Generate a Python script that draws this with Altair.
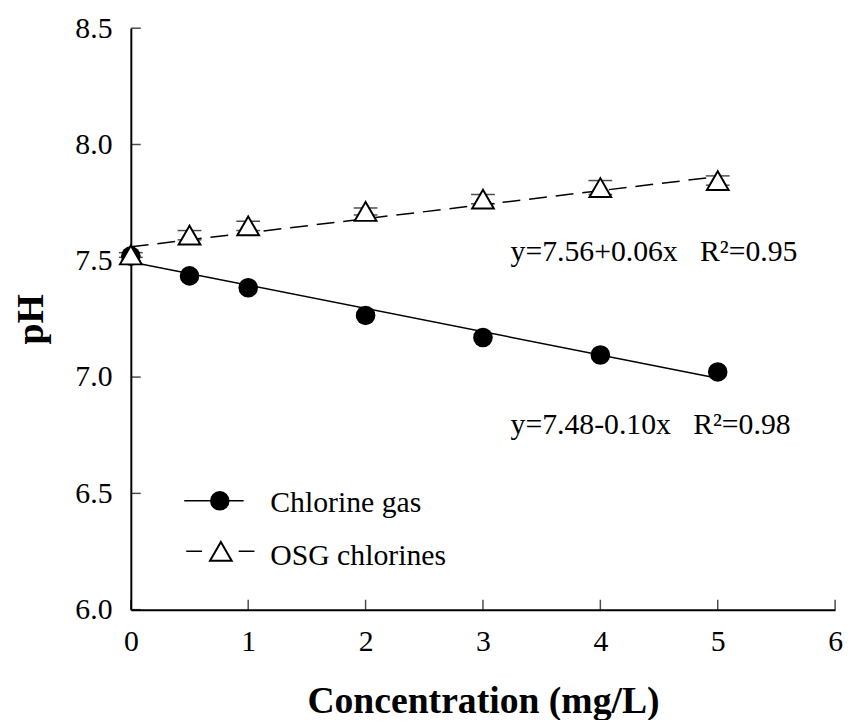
import altair as alt
import pandas as pd

# ---- data ----
conc = [0, 0.5, 1, 2, 3, 4, 5]
ph_gas = [7.52, 7.435, 7.384, 7.265, 7.17, 7.095, 7.022]
ph_osg = [7.525, 7.61, 7.65, 7.712, 7.765, 7.815, 7.845]
err_osg = [0.01, 0.02, 0.02, 0.015, 0.02, 0.03, 0.02]

fit_x = [0, 5]
fit_gas = [7.495, 6.995]
fit_osg = [7.56, 7.862]

NB = "\u00a0"
eq_text = ["y=7.56+0.06x" + NB * 3 + "R\u00b2=0.95", "y=7.48-0.10x" + NB * 3 + "R\u00b2=0.98"]
eq_x = [3.235, 3.235]
eq_y = [7.5, 6.754]

legend_labels = ["Chlorine gas", "OSG chlorines"]
legend_sym_y = [6.468, 6.251]
legend_txt_y = [6.42, 6.19]

x_ticks = [0, 1, 2, 3, 4, 5, 6]
y_ticks = [6.0, 6.5, 7.0, 7.5, 8.0, 8.5]

W, H = 711, 587
FONT = "Liberation Serif"

xs = alt.Scale(domain=[0, 6], nice=False)
ys = alt.Scale(domain=[6.0, 8.5], nice=False)

pts = pd.DataFrame({"x": conc, "gas": ph_gas, "osg": ph_osg,
                    "lo": [a - b for a, b in zip(ph_osg, err_osg)],
                    "hi": [a + b for a, b in zip(ph_osg, err_osg)]})
fit = pd.DataFrame({"x": fit_x, "gas": fit_gas, "osg": fit_osg})
eqs = pd.DataFrame({"t": eq_text, "x": eq_x, "y": eq_y})

X = alt.X("x:Q", scale=xs,
          axis=alt.Axis(values=x_ticks, format="d", tickSize=0, labelPadding=17,
                        labelFlush=False, labelOverlap=False,
                        title="Concentration (mg/L)", titlePadding=27,
                        grid=False, domainWidth=2, domainColor="black"))
Y = alt.Y("y:Q", scale=ys,
          axis=alt.Axis(values=y_ticks, format=".1f", tickSize=0, labelPadding=19,
                        labelFlush=False, labelOverlap=False,
                        title="pH", titlePadding=25,
                        grid=False, domainWidth=2, domainColor="black"))

base = alt.Chart(pts)

axes_holder = alt.Chart(pd.DataFrame({"x": [0], "y": [6.0]})).mark_point(opacity=0).encode(x=X, y=Y)

xtick = alt.Chart(pd.DataFrame({"x": x_ticks})).mark_tick(
    orient="vertical", size=10, thickness=1.5, color="black"
).encode(x=alt.X("x:Q", scale=xs), y=alt.value(H - 5))
ytick = alt.Chart(pd.DataFrame({"y": y_ticks})).mark_tick(
    orient="horizontal", size=10, thickness=1.5, color="black"
).encode(y=alt.Y("y:Q", scale=ys), x=alt.value(5))

gas_line = alt.Chart(fit).mark_line(color="black", strokeWidth=1.5).encode(
    x=alt.X("x:Q", scale=xs), y=alt.Y("gas:Q", scale=ys))
osg_line = alt.Chart(fit).mark_line(color="black", strokeWidth=1.5, strokeDash=[18, 9]).encode(
    x=alt.X("x:Q", scale=xs), y=alt.Y("osg:Q", scale=ys))

gas_pts = base.mark_point(shape="circle", filled=True, color="black", size=390, opacity=1).encode(
    x=alt.X("x:Q", scale=xs), y=alt.Y("gas:Q", scale=ys))

osg_err = base.mark_rule(color="black", strokeWidth=1.5).encode(
    x=alt.X("x:Q", scale=xs), y=alt.Y("lo:Q", scale=ys), y2="hi:Q")
osg_cap_lo = base.mark_tick(orient="horizontal", size=24, thickness=1.5, color="black").encode(
    x=alt.X("x:Q", scale=xs), y=alt.Y("lo:Q", scale=ys))
osg_cap_hi = base.mark_tick(orient="horizontal", size=24, thickness=1.5, color="black").encode(
    x=alt.X("x:Q", scale=xs), y=alt.Y("hi:Q", scale=ys))
osg_pts = base.mark_point(shape="triangle-up", filled=True, fill="white", stroke="black",
                          strokeWidth=2, size=480, opacity=1).encode(
    x=alt.X("x:Q", scale=xs), y=alt.Y("osg:Q", scale=ys))

eq_marks = alt.Chart(eqs).mark_text(align="left", baseline="alphabetic", font=FONT,
                                    fontSize=30, color="black").encode(
    x=alt.X("x:Q", scale=xs), y=alt.Y("y:Q", scale=ys), text="t:N")

# legend drawn in data space
leg_gas_line = alt.Chart(pd.DataFrame({"x": [0.455, 0.961], "y": [legend_sym_y[0]] * 2})).mark_line(
    color="black", strokeWidth=1.5).encode(x=alt.X("x:Q", scale=xs), y=alt.Y("y:Q", scale=ys))
leg_gas_pt = alt.Chart(pd.DataFrame({"x": [0.758], "y": [legend_sym_y[0]]})).mark_point(
    shape="circle", filled=True, color="black", size=390, opacity=1).encode(
    x=alt.X("x:Q", scale=xs), y=alt.Y("y:Q", scale=ys))
leg_osg_line = alt.Chart(pd.DataFrame({"x": [0.472, 1.053], "y": [legend_sym_y[1]] * 2})).mark_line(
    color="black", strokeWidth=1.5, strokeDash=[16, 37]).encode(x=alt.X("x:Q", scale=xs), y=alt.Y("y:Q", scale=ys))
leg_osg_pt = alt.Chart(pd.DataFrame({"x": [0.767], "y": [legend_sym_y[1]]})).mark_point(
    shape="triangle-up", filled=True, fill="white", stroke="black", strokeWidth=2, size=480, opacity=1).encode(
    x=alt.X("x:Q", scale=xs), y=alt.Y("y:Q", scale=ys))
leg_text = alt.Chart(pd.DataFrame({"t": legend_labels, "x": [1.188, 1.188], "y": legend_txt_y})).mark_text(
    align="left", baseline="alphabetic", font=FONT, fontSize=30, color="black").encode(
    x=alt.X("x:Q", scale=xs), y=alt.Y("y:Q", scale=ys), text="t:N")

chart = alt.layer(
    axes_holder, xtick, ytick, gas_line, osg_line, gas_pts, osg_err, osg_cap_lo, osg_cap_hi,
    osg_pts, eq_marks, leg_gas_line, leg_gas_pt, leg_osg_line, leg_osg_pt, leg_text
).properties(
    width=W, height=H,
    autosize=alt.AutoSizeParams(type="none"),
    padding={"left": 124, "top": 17, "right": 11, "bottom": 108},
).configure(background="white").configure_view(stroke=None).configure_axis(
    labelFont=FONT, labelFontSize=30, labelColor="black",
    titleFont=FONT, titleFontSize=38, titleFontWeight="bold", titleColor="black",
)

chart.save("out.html", embed_options={"renderer": "svg", "actions": False})
